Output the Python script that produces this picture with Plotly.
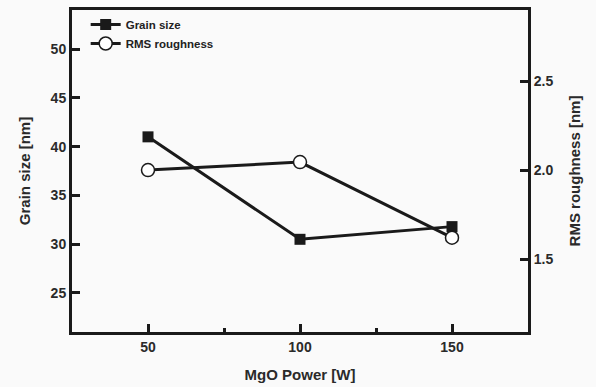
import plotly.graph_objects as go

power = [50, 100, 150]
grain_size = [41.0, 30.5, 31.8]
rms_roughness = [2.0, 2.045, 1.62]

x_ticks = [50, 100, 150]
left_ticks = [25, 30, 35, 40, 45, 50]
right_ticks = [1.5, 2.0, 2.5]

FONT = "Liberation Sans, Arial, sans-serif"
INK = "#1a1a1a"

fig = go.Figure()
fig.add_trace(go.Scatter(
    x=power, y=grain_size, name="Grain size", mode="lines+markers",
    line=dict(color=INK, width=3),
    marker=dict(symbol="square", size=11, color=INK),
))
fig.add_trace(go.Scatter(
    x=power, y=rms_roughness, name="RMS roughness", mode="lines+markers",
    yaxis="y2",
    line=dict(color=INK, width=3),
    marker=dict(symbol="circle", size=13, color="white", line=dict(color=INK, width=1.5)),
))

axis_common = dict(
    showgrid=False, zeroline=False, showline=True, linecolor=INK, linewidth=3,
    ticks="inside", ticklen=8, tickwidth=3, tickcolor=INK,
    tickfont=dict(family=FONT, size=14, color="#2a2a2a", weight="bold"),
    title_font=dict(family=FONT, size=15, color="#2a2a2a", weight="bold"),
)

fig.update_layout(
    width=596, height=387,
    margin=dict(l=72, r=68, t=10, b=55, autoexpand=False),
    paper_bgcolor="#fafafa", plot_bgcolor="#fafafa",
    showlegend=True,
    legend=dict(x=0.03, y=1.0, xanchor="left", yanchor="top",
                bgcolor="rgba(0,0,0,0)", borderwidth=0,
                font=dict(family=FONT, size=11.5, color="#222222", weight="bold"),
                itemwidth=30, tracegroupgap=0),
    xaxis=dict(range=[25, 175], tickvals=x_ticks, mirror=True,
               title=dict(text="MgO Power [W]", standoff=16),
               minor=dict(tickvals=[75, 125], ticks="inside", ticklen=4, tickwidth=2.5, tickcolor=INK),
               **axis_common),
    yaxis=dict(range=[21, 54], tickvals=left_ticks,
               title=dict(text="Grain size [nm]", standoff=17),
               **axis_common),
    yaxis2=dict(range=[1.09, 2.9], tickvals=right_ticks, overlaying="y", side="right",
                tickformat=".1f",
                title=dict(text="RMS roughness [nm]", standoff=18),
                **axis_common),
)

fig.write_html("out.html")
